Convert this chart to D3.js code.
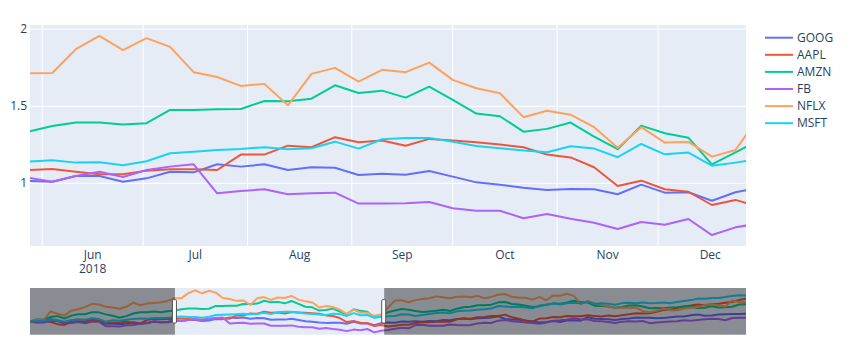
<!DOCTYPE html>
<html>
<head>
<meta charset="utf-8">
<script src="https://cdn.jsdelivr.net/npm/d3@7"></script>
<style>
  body { margin: 0; background: #fff; }
  text { font-family: "Open Sans", sans-serif; font-size: 12px; fill: #2a3f5f; }
</style>
</head>
<body>
<script>
// weekly closes, normalised to the first week of 2018
const firstWeek = '2018-01-01';
const symbols = ['GOOG', 'AAPL', 'AMZN', 'FB', 'NFLX', 'MSFT'];
const colors = ['#636efa', '#EF553B', '#00cc96', '#ab63fa', '#FFA15A', '#19d3f3'];

const GOOG = [1.0, 1.018, 1.032, 1.067, 1.009, 0.942, 0.993, 1.007, 0.979, 1.052, 1.030, 0.927, 0.936, 0.914, 0.934, 0.973, 0.935, 0.951, 0.996, 0.970, 0.975,
  1.015, 1.01, 1.047, 1.047, 1.01, 1.032, 1.075, 1.071, 1.123, 1.108, 1.123, 1.086, 1.104, 1.101, 1.054, 1.062, 1.056, 1.08, 1.043, 1.006, 0.991, 0.971, 0.956, 0.963, 0.961, 0.929, 0.991, 0.939, 0.942, 0.887, 0.942,
  0.971, 0.959, 0.996, 0.989, 1.008, 0.993, 1.01, 1.007, 1.042, 1.036, 1.075, 1.093, 1.064, 1.095, 1.104, 1.121, 1.154, 1.075, 1.056, 1.054, 1.028, 1.001, 0.967, 0.984, 1.017, 0.98, 1.026, 1.038, 1.025, 1.134, 1.082, 1.078, 1.068, 1.044, 1.078, 1.092, 1.124, 1.115, 1.111, 1.097, 1.102, 1.13, 1.149, 1.155, 1.189, 1.21, 1.175, 1.183, 1.216, 1.222, 1.225, 1.226, 1.234];
const AAPL = [1.0, 1.012, 1.020, 0.980, 0.917, 0.894, 0.985, 1.003, 1.007, 1.028, 1.017, 0.943, 0.959, 0.962, 0.998, 0.947, 0.928, 1.050, 1.078, 1.065, 1.078,
  1.086, 1.093, 1.075, 1.058, 1.058, 1.082, 1.091, 1.091, 1.086, 1.186, 1.186, 1.244, 1.234, 1.299, 1.266, 1.277, 1.244, 1.288, 1.277, 1.266, 1.251, 1.234, 1.186, 1.168, 1.104, 0.982, 1.017, 0.961, 0.945, 0.859, 0.892,
  0.847, 0.870, 0.896, 0.901, 0.952, 0.974, 0.974, 0.988, 1.0, 0.988, 1.064, 1.092, 1.085, 1.126, 1.136, 1.165, 1.167, 1.21, 1.127, 1.08, 1.023, 1.0, 1.087, 1.101, 1.136, 1.131, 1.167, 1.162, 1.158, 1.187, 1.166, 1.149, 1.18, 1.158, 1.193, 1.219, 1.25, 1.244, 1.25, 1.297, 1.35, 1.351, 1.409, 1.462, 1.487, 1.519, 1.496, 1.527, 1.547, 1.572, 1.597, 1.656, 1.70];
const AMZN = [1.0, 1.062, 1.053, 1.141, 1.163, 1.09, 1.179, 1.22, 1.221, 1.285, 1.279, 1.217, 1.178, 1.116, 1.164, 1.243, 1.279, 1.286, 1.304, 1.281, 1.31,
  1.335, 1.372, 1.394, 1.394, 1.381, 1.39, 1.476, 1.476, 1.48, 1.482, 1.534, 1.532, 1.549, 1.636, 1.586, 1.601, 1.556, 1.627, 1.541, 1.452, 1.435, 1.335, 1.353, 1.394, 1.303, 1.221, 1.374, 1.325, 1.296, 1.123, 1.20,
  1.282, 1.335, 1.38, 1.359, 1.323, 1.292, 1.308, 1.327, 1.36, 1.319, 1.393, 1.436, 1.449, 1.495, 1.5, 1.515, 1.587, 1.597, 1.538, 1.521, 1.483, 1.444, 1.468, 1.522, 1.555, 1.541, 1.581, 1.636, 1.598, 1.581, 1.483, 1.471, 1.458, 1.423, 1.445, 1.492, 1.496, 1.46, 1.404, 1.415, 1.409, 1.43, 1.433, 1.457, 1.453, 1.415, 1.42, 1.465, 1.425, 1.433, 1.453, 1.521, 1.525];
const FB = [1.0, 0.960, 0.970, 1.017, 1.018, 0.943, 0.949, 0.981, 0.945, 0.991, 0.991, 0.853, 0.855, 0.841, 0.880, 0.890, 0.932, 0.945, 1.001, 0.980, 0.990,
  1.036, 1.01, 1.047, 1.075, 1.041, 1.086, 1.108, 1.123, 0.935, 0.95, 0.961, 0.929, 0.935, 0.939, 0.868, 0.868, 0.87, 0.879, 0.838, 0.822, 0.822, 0.773, 0.801, 0.77, 0.744, 0.703, 0.749, 0.731, 0.768, 0.664, 0.714,
  0.739, 0.778, 0.803, 0.789, 0.887, 0.896, 0.87, 0.866, 0.868, 0.905, 0.888, 0.88, 0.892, 0.94, 0.959, 0.954, 1.025, 1.046, 1.008, 0.992, 0.969, 0.95, 0.928, 0.97, 1.023, 1.033, 1.051, 1.096, 1.062, 1.069, 1.012, 1.005, 0.983, 0.951, 0.994, 1.003, 1.002, 1.016, 0.948, 0.966, 0.986, 0.995, 1.006, 1.036, 1.021, 1.044, 1.064, 1.079, 1.076, 1.039, 1.104, 1.114, 1.117];
const NFLX = [1.0, 1.054, 1.05, 1.307, 1.236, 1.186, 1.33, 1.377, 1.44, 1.54, 1.52, 1.45, 1.43, 1.39, 1.45, 1.58, 1.5, 1.55, 1.57, 1.59, 1.63,
  1.714, 1.716, 1.87, 1.956, 1.864, 1.942, 1.885, 1.721, 1.69, 1.632, 1.645, 1.506, 1.71, 1.749, 1.66, 1.736, 1.721, 1.783, 1.671, 1.617, 1.584, 1.429, 1.471, 1.445, 1.364, 1.231, 1.364, 1.264, 1.268, 1.173, 1.216,
  1.43, 1.64, 1.65, 1.59, 1.655, 1.69, 1.71, 1.77, 1.745, 1.715, 1.76, 1.765, 1.74, 1.785, 1.71, 1.755, 1.82, 1.84, 1.755, 1.725, 1.725, 1.67, 1.755, 1.65, 1.80, 1.79, 1.85, 1.785, 1.535, 1.63, 1.55, 1.505, 1.47, 1.41, 1.43, 1.42, 1.43, 1.315, 1.28, 1.325, 1.39, 1.345, 1.345, 1.40, 1.42, 1.44, 1.51, 1.53, 1.50, 1.46, 1.64, 1.60, 1.59];
const MSFT = [1.0, 1.016, 1.020, 1.067, 1.041, 0.995, 1.047, 1.067, 1.051, 1.095, 1.073, 0.989, 1.035, 1.023, 1.055, 1.077, 1.087, 1.079, 1.108, 1.102, 1.115,
  1.14, 1.149, 1.134, 1.136, 1.117, 1.143, 1.195, 1.205, 1.216, 1.223, 1.234, 1.221, 1.227, 1.27, 1.225, 1.286, 1.294, 1.294, 1.27, 1.242, 1.227, 1.212, 1.201, 1.24, 1.225, 1.169, 1.255, 1.188, 1.199, 1.114, 1.134,
  1.156, 1.166, 1.221, 1.215, 1.165, 1.198, 1.227, 1.258, 1.276, 1.253, 1.314, 1.327, 1.338, 1.359, 1.371, 1.399, 1.473, 1.462, 1.442, 1.452, 1.431, 1.402, 1.49, 1.502, 1.553, 1.519, 1.559, 1.575, 1.549, 1.603, 1.539, 1.562, 1.544, 1.513, 1.563, 1.577, 1.557, 1.581, 1.562, 1.566, 1.584, 1.558, 1.596, 1.63, 1.655, 1.701, 1.696, 1.717, 1.721, 1.752, 1.785, 1.802, 1.799];

const yTicks = [1, 1.5, 2];
const viewRange = [new Date(2018, 4, 28, 9), new Date(2018, 11, 27, 3)]; // zoomed window

const dates = GOOG.map((_, i) => d3.timeWeek.offset(d3.timeParse('%Y-%m-%d')(firstWeek), i));
const seriesValues = [GOOG, AAPL, AMZN, FB, NFLX, MSFT];
const series = symbols.map((s, k) => ({
  name: s,
  color: colors[k],
  points: seriesValues[k].map((v, i) => ({ date: dates[i], v }))
}));

const W = 852, H = 363;
const plot = { left: 30, right: 746, top: 25, bottom: 246 };
const slider = { top: 288, bottom: 334.7 };

const ext = d3.extent(seriesValues.flat());
const pad = (ext[1] - ext[0]) * 0.055;

const x = d3.scaleTime().domain(viewRange).range([plot.left, plot.right]);
const y = d3.scaleLinear().domain([ext[0] - pad, ext[1] + pad]).range([plot.bottom, plot.top]);
const xs = d3.scaleTime().domain(d3.extent(dates)).range([plot.left, plot.right]);
const ys = d3.scaleLinear().domain(y.domain()).range([slider.bottom, slider.top]);

const svg = d3.select('body')
  .append('svg')
  .attr('width', W)
  .attr('height', H);

const defs = svg.append('defs');
defs.append('clipPath').attr('id', 'clipMain')
  .append('rect')
  .attr('x', plot.left).attr('y', plot.top)
  .attr('width', plot.right - plot.left).attr('height', plot.bottom - plot.top);
defs.append('clipPath').attr('id', 'clipSlider')
  .append('rect')
  .attr('x', plot.left).attr('y', slider.top)
  .attr('width', plot.right - plot.left).attr('height', slider.bottom - slider.top);

// main plot background + grid
svg.append('rect')
  .attr('x', plot.left).attr('y', plot.top)
  .attr('width', plot.right - plot.left).attr('height', plot.bottom - plot.top)
  .attr('fill', '#E5ECF6');

const months = d3.timeMonth.range(d3.timeMonth.ceil(viewRange[0]), viewRange[1]);
svg.append('g').selectAll('line').data(months)
  .enter().append('line')
  .attr('x1', d => x(d)).attr('x2', d => x(d))
  .attr('y1', plot.top).attr('y2', plot.bottom)
  .attr('stroke', '#fff').attr('stroke-width', 1);

svg.append('g').selectAll('line').data(yTicks)
  .enter().append('line')
  .attr('x1', plot.left).attr('x2', plot.right)
  .attr('y1', d => y(d)).attr('y2', d => y(d))
  .attr('stroke', '#fff').attr('stroke-width', 1);

svg.append('g').selectAll('text').data(yTicks)
  .enter().append('text')
  .attr('x', plot.left - 3)
  .attr('y', d => y(d))
  .attr('dy', '0.35em')
  .style('text-anchor', 'end')
  .text(d => d);

// month labels sit in the middle of each month (period mode), year under the first one
const labelMonths = d3.timeMonth.range(d3.timeMonth.floor(viewRange[0]), viewRange[1])
  .map(m => ({ m, mid: new Date((+m + +d3.timeMonth.offset(m, 1)) / 2) }))
  .filter(d => d.mid >= viewRange[0] && d.mid <= viewRange[1]);

const xLabels = svg.append('g').selectAll('text').data(labelMonths)
  .enter().append('text')
  .attr('x', d => x(d.mid))
  .attr('y', 259)
  .style('text-anchor', 'middle');
xLabels.append('tspan')
  .text(d => d3.timeFormat('%b')(d.m));
xLabels.filter((d, i) => i === 0).append('tspan')
  .attr('x', d => x(d.mid))
  .attr('dy', 14)
  .text(d => d3.timeFormat('%Y')(d.m));

// main lines
const line = d3.line().x(d => x(d.date)).y(d => y(d.v));
svg.append('g').attr('clip-path', 'url(#clipMain)')
  .selectAll('path').data(series)
  .enter().append('path')
  .attr('d', d => line(d.points))
  .attr('fill', 'none')
  .attr('stroke', d => d.color)
  .attr('stroke-width', 2)
  .attr('stroke-linejoin', 'round');

// range slider
svg.append('rect')
  .attr('x', plot.left).attr('y', slider.top)
  .attr('width', plot.right - plot.left).attr('height', slider.bottom - slider.top)
  .attr('fill', '#E5ECF6');

const miniLine = d3.line().x(d => xs(d.date)).y(d => ys(d.v));
svg.append('g').attr('clip-path', 'url(#clipSlider)')
  .selectAll('path').data(series)
  .enter().append('path')
  .attr('d', d => miniLine(d.points))
  .attr('fill', 'none')
  .attr('stroke', d => d.color)
  .attr('stroke-width', 2)
  .attr('stroke-linejoin', 'round');

const lo = xs(viewRange[0]), hi = xs(viewRange[1]);
svg.append('rect')
  .attr('x', plot.left).attr('y', slider.top)
  .attr('width', lo - plot.left).attr('height', slider.bottom - slider.top)
  .attr('fill', 'rgba(0,0,0,0.4)');
svg.append('rect')
  .attr('x', hi).attr('y', slider.top)
  .attr('width', plot.right - hi).attr('height', slider.bottom - slider.top)
  .attr('fill', 'rgba(0,0,0,0.4)');

const sh = slider.bottom - slider.top;
svg.selectAll('.handle').data([lo, hi])
  .enter().append('rect')
  .attr('class', 'handle')
  .attr('x', d => d - 2.5)
  .attr('y', slider.top + sh / 4)
  .attr('width', 4)
  .attr('height', sh / 2)
  .attr('rx', 1)
  .attr('fill', '#fff')
  .attr('stroke', '#555')
  .attr('stroke-width', 1);

// legend
const legend = svg.append('g').selectAll('g').data(series)
  .enter().append('g')
  .attr('transform', (d, i) => `translate(765, ${37.7 + i * 17.1})`);
legend.append('line')
  .attr('x1', 0).attr('x2', 28)
  .attr('stroke', d => d.color)
  .attr('stroke-width', 2);
legend.append('text')
  .attr('x', 32)
  .attr('dy', '0.35em')
  .text(d => d.name);
</script>
</body>
</html>
